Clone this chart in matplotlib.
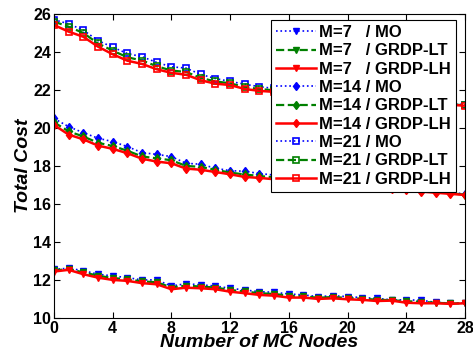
import matplotlib
matplotlib.use('Agg')
import matplotlib.pyplot as plt

plt.rcParams['font.family'] = ['Liberation Sans', 'DejaVu Sans']
plt.rcParams['font.weight'] = 'bold'

nodes = list(range(29))

# M = 7
m7_mo = [12.56, 12.61, 12.49, 12.30, 12.21, 12.12, 12.00, 12.00, 11.68, 11.80,
         11.74, 11.68, 11.56, 11.47, 11.38, 11.35, 11.26, 11.21, 11.12, 11.17,
         11.12, 11.07, 11.03, 10.95, 10.95, 10.93, 10.82, 10.78, 10.78]
m7_lt = [12.50, 12.57, 12.40, 12.22, 12.10, 12.03, 11.92, 11.88, 11.60, 11.70,
         11.65, 11.60, 11.47, 11.39, 11.30, 11.26, 11.17, 11.14, 11.06, 11.10,
         11.05, 11.01, 10.96, 10.93, 10.88, 10.85, 10.80, 10.76, 10.77]
m7_lh = [12.44, 12.53, 12.30, 12.12, 12.00, 11.95, 11.83, 11.77, 11.51, 11.59,
         11.56, 11.51, 11.38, 11.30, 11.21, 11.17, 11.07, 11.07, 11.00, 11.03,
         10.98, 10.95, 10.89, 10.91, 10.80, 10.77, 10.77, 10.74, 10.77]

# M = 14
m14_mo = [20.50, 20.07, 19.75, 19.46, 19.28, 19.02, 18.70, 18.61, 18.49, 18.14,
          18.09, 17.88, 17.75, 17.72, 17.60, 17.52, 17.45, 17.37, 17.30, 17.22,
          17.15, 17.07, 17.00, 16.92, 16.85, 16.77, 16.70, 16.62, 16.52]
m14_lt = [20.30, 19.82, 19.55, 19.22, 19.05, 18.80, 18.50, 18.40, 18.30, 18.00,
          17.95, 17.80, 17.65, 17.55, 17.47, 17.40, 17.33, 17.26, 17.19, 17.12,
          17.05, 16.98, 16.91, 16.84, 16.77, 16.70, 16.63, 16.56, 16.49]
m14_lh = [20.16, 19.65, 19.40, 19.07, 18.90, 18.67, 18.38, 18.23, 18.14, 17.86,
          17.80, 17.68, 17.56, 17.42, 17.37, 17.30, 17.24, 17.17, 17.11, 17.04,
          16.98, 16.91, 16.85, 16.78, 16.72, 16.65, 16.59, 16.53, 16.47]

# M = 21
m21_mo = [25.70, 25.48, 25.15, 24.60, 24.25, 23.92, 23.75, 23.45, 23.22, 23.15,
          22.82, 22.60, 22.45, 22.30, 22.17, 22.08, 22.00, 21.93, 21.86, 21.80,
          21.72, 21.66, 21.60, 21.54, 21.48, 21.42, 21.36, 21.30, 21.22]
m21_lt = [25.60, 25.33, 25.00, 24.45, 24.07, 23.72, 23.55, 23.25, 23.02, 22.95,
          22.63, 22.45, 22.35, 22.15, 22.05, 21.98, 21.90, 21.83, 21.77, 21.70,
          21.64, 21.58, 21.52, 21.46, 21.40, 21.35, 21.30, 21.25, 21.19]
m21_lh = [25.42, 25.07, 24.80, 24.28, 23.88, 23.54, 23.37, 23.09, 22.90, 22.80,
          22.51, 22.33, 22.26, 22.05, 21.95, 21.90, 21.82, 21.76, 21.70, 21.64,
          21.58, 21.52, 21.47, 21.42, 21.37, 21.32, 21.27, 21.22, 21.17]

series = [
    ('M=7   / MO', m7_mo, 'v', 'mo'),
    ('M=7   / GRDP-LT', m7_lt, 'v', 'lt'),
    ('M=7   / GRDP-LH', m7_lh, 'v', 'lh'),
    ('M=14 / MO', m14_mo, 'd', 'mo'),
    ('M=14 / GRDP-LT', m14_lt, 'd', 'lt'),
    ('M=14 / GRDP-LH', m14_lh, 'd', 'lh'),
    ('M=21 / MO', m21_mo, 's', 'mo'),
    ('M=21 / GRDP-LT', m21_lt, 's', 'lt'),
    ('M=21 / GRDP-LH', m21_lh, 's', 'lh'),
]

STYLES = {
    'mo': dict(color='blue', linestyle=':', linewidth=1.2),
    'lt': dict(color='green', linestyle='--', linewidth=1.6),
    'lh': dict(color='red', linestyle='-', linewidth=1.8),
}

fig = plt.figure(figsize=(4.73, 3.58), dpi=100)
ax = fig.add_axes([0.114, 0.112, 0.869, 0.849])

for label, vals, marker, kind in series:
    st = STYLES[kind]
    if marker == 's':
        ax.plot(nodes, vals, marker=marker, markersize=5, markerfacecolor='none',
                markeredgecolor=st['color'], markeredgewidth=1.2, label=label, **st)
    else:
        ax.plot(nodes, vals, marker=marker, markersize=4.5, markerfacecolor=st['color'],
                markeredgecolor=st['color'], label=label, **st)

ax.set_xlim(0, 28)
ax.set_ylim(10, 26)
ax.set_xticks(range(0, 29, 4))
ax.set_yticks(range(10, 27, 2))
ax.tick_params(direction='in', top=True, right=True, labelsize=11.5, length=4, pad=2)
for lbl in ax.get_xticklabels() + ax.get_yticklabels():
    lbl.set_fontweight('bold')
for sp in ax.spines.values():
    sp.set_linewidth(0.8)

ax.set_xlabel('Number of MC Nodes', fontsize=14, fontweight='bold', style='italic', labelpad=-1)
ax.set_ylabel('Total Cost', fontsize=14, fontweight='bold', style='italic', labelpad=1)

leg = ax.legend(loc='upper right', bbox_to_anchor=(0.978, 0.98), borderaxespad=0,
                fontsize=12, handlelength=2.4, handletextpad=0.2, labelspacing=0.2,
                borderpad=0.3, fancybox=False, framealpha=1, edgecolor='black')
leg.get_frame().set_linewidth(0.8)
for t in leg.get_texts():
    t.set_fontweight('bold')

fig.savefig('out.png', dpi=100)
